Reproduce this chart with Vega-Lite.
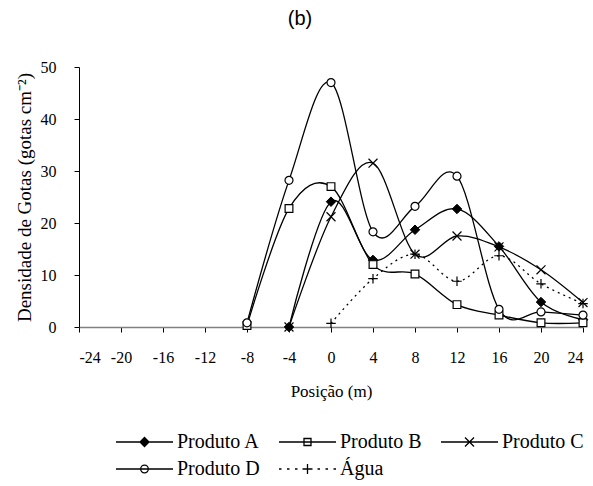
{
  "$schema": "https://vega.github.io/schema/vega-lite/v6.json",
  "autosize": "none",
  "width": 504,
  "height": 260,
  "padding": {"left": 79, "top": 67, "right": 10, "bottom": 159},
  "background": "white",
  "title": {"text": "(b)", "font": "Liberation Sans", "fontSize": 20, "fontWeight": "normal", "color": "black", "anchor": "middle", "dx": -31, "offset": 30},
  "config": {"view": {"stroke": null}},
  "data": {"values": [
    {"pos": -4, "val": 0, "serie": "Produto A"},
    {"pos": 0, "val": 24.1, "serie": "Produto A"},
    {"pos": 4, "val": 12.9, "serie": "Produto A"},
    {"pos": 8, "val": 18.7, "serie": "Produto A"},
    {"pos": 12, "val": 22.7, "serie": "Produto A"},
    {"pos": 16, "val": 15.5, "serie": "Produto A"},
    {"pos": 20, "val": 4.8, "serie": "Produto A"},
    {"pos": 24, "val": 1.4, "serie": "Produto A"},
    {"pos": -8, "val": 0.3, "serie": "Produto B"},
    {"pos": -4, "val": 22.8, "serie": "Produto B"},
    {"pos": 0, "val": 27, "serie": "Produto B"},
    {"pos": 4, "val": 12, "serie": "Produto B"},
    {"pos": 8, "val": 10.2, "serie": "Produto B"},
    {"pos": 12, "val": 4.3, "serie": "Produto B"},
    {"pos": 16, "val": 2.3, "serie": "Produto B"},
    {"pos": 20, "val": 0.8, "serie": "Produto B"},
    {"pos": 24, "val": 0.8, "serie": "Produto B"},
    {"pos": -4, "val": 0, "serie": "Produto C"},
    {"pos": 0, "val": 21.2, "serie": "Produto C"},
    {"pos": 4, "val": 31.5, "serie": "Produto C"},
    {"pos": 8, "val": 14, "serie": "Produto C"},
    {"pos": 12, "val": 17.5, "serie": "Produto C"},
    {"pos": 16, "val": 15.4, "serie": "Produto C"},
    {"pos": 20, "val": 11, "serie": "Produto C"},
    {"pos": 24, "val": 4.7, "serie": "Produto C"},
    {"pos": -8, "val": 0.8, "serie": "Produto D"},
    {"pos": -4, "val": 28.2, "serie": "Produto D"},
    {"pos": 0, "val": 47, "serie": "Produto D"},
    {"pos": 4, "val": 18.3, "serie": "Produto D"},
    {"pos": 8, "val": 23.2, "serie": "Produto D"},
    {"pos": 12, "val": 29, "serie": "Produto D"},
    {"pos": 16, "val": 3.4, "serie": "Produto D"},
    {"pos": 20, "val": 2.9, "serie": "Produto D"},
    {"pos": 24, "val": 2.3, "serie": "Produto D"},
    {"pos": 0, "val": 0.7, "serie": "Água"},
    {"pos": 4, "val": 9.3, "serie": "Água"},
    {"pos": 8, "val": 14, "serie": "Água"},
    {"pos": 12, "val": 8.8, "serie": "Água"},
    {"pos": 16, "val": 13.7, "serie": "Água"},
    {"pos": 20, "val": 8.3, "serie": "Água"},
    {"pos": 24, "val": 4.5, "serie": "Água"}
  ]},
  "encoding": {
    "x": {
      "field": "pos", "type": "quantitative",
      "scale": {"domain": [-24, 24], "nice": false, "zero": false},
      "axis": {
        "values": [-24, -20, -16, -12, -8, -4, 0, 4, 8, 12, 16, 20, 24],
        "labelExpr": "'' + datum.value",
        "title": "Posição (m)",
        "grid": false,
        "domainColor": "#808080", "domainWidth": 1.5,
        "tickColor": "black", "tickSize": 5,
        "labelFont": "Liberation Serif, Times New Roman, serif", "labelFontSize": 16, "labelColor": "black", "labelPadding": 17,
        "titleFont": "Liberation Serif, Times New Roman, serif", "titleFontSize": 17, "titleFontWeight": "normal", "titleColor": "black", "titlePadding": 18
      }
    },
    "y": {
      "field": "val", "type": "quantitative",
      "scale": {"domain": [0, 50], "nice": false},
      "axis": {
        "values": [0, 10, 20, 30, 40, 50],
        "title": "Densidade de Gotas (gotas cm⁻²)",
        "grid": false,
        "domainColor": "black", "domainWidth": 1,
        "tickColor": "black", "tickSize": 5,
        "labelFont": "Liberation Serif, Times New Roman, serif", "labelFontSize": 16, "labelColor": "black", "labelPadding": 18,
        "titleFont": "Liberation Serif, Times New Roman, serif", "titleFontSize": 19, "titleFontWeight": "normal", "titleColor": "black", "titlePadding": 6
      }
    }
  },
  "layer": [
    {
      "transform": [{"filter": "datum.serie !== 'Água'"}],
      "mark": {"type": "line", "interpolate": "cardinal", "strokeWidth": 1.3},
      "encoding": {
        "color": {
          "field": "serie", "type": "nominal",
          "scale": {"domain": ["Produto A", "Produto B", "Produto C", "Produto D", "Água"], "range": ["black", "black", "black", "black", "black"]},
          "legend": {
            "title": null,
            "orient": "none",
            "legendX": 36,
            "legendY": 364,
            "direction": "horizontal",
            "columns": 3,
            "symbolSize": 400,
            "symbolOffset": 18.5,
            "symbolStrokeWidth": 1.3,
            "labelFont": "Liberation Serif, Times New Roman, serif",
            "labelFontSize": 20,
            "labelColor": "black",
            "labelOffset": 21.5,
            "columnPadding": 16,
            "rowPadding": 6,
            "encode": {
              "symbols": {
                "update": {
                  "shape": {"signal": "datum.value === 'Produto A' ? 'M-2.85,0L2.85,0M0,-0.45L0.45,0L0,0.45L-0.45,0Z' : datum.value === 'Produto B' ? 'M-2.85,0L2.85,0M-0.35,-0.35L0.35,-0.35L0.35,0.35L-0.35,0.35Z' : datum.value === 'Produto C' ? 'M-2.85,0L2.85,0M-0.45,-0.45L0.45,0.45M-0.45,0.45L0.45,-0.45' : datum.value === 'Produto D' ? 'M-2.85,0L2.85,0M-0.38,0A0.38,0.38,0,1,0,0.38,0A0.38,0.38,0,1,0,-0.38,0Z' : 'M-2.85,0L-2.6,0M-2.05,0L-1.8,0M-1.25,0L-1.0,0M-0.5,0L0.5,0M0,-0.5L0,0.5M1.0,0L1.25,0M1.8,0L2.05,0M2.6,0L2.85,0'"},
                  "fill": {"signal": "datum.value === 'Produto A' ? 'black' : (datum.value === 'Produto B' || datum.value === 'Produto D') ? 'white' : 'transparent'"},
                  "stroke": {"value": "black"},
                  "strokeWidth": {"value": 1.3},
                  "opacity": {"value": 1}
                }
              }
            }
          }
        }
      }
    },
    {
      "transform": [{"filter": "datum.serie === 'Água'"}],
      "mark": {"type": "line", "interpolate": "cardinal", "strokeWidth": 1.3, "strokeDash": [2, 4], "color": "black"},
      "encoding": {}
    },
    {
      "transform": [{"filter": "datum.serie === 'Produto A'"}],
      "mark": {"type": "point", "shape": "M0,-1L1,0L0,1L-1,0Z", "filled": true, "fill": "black", "stroke": "black", "strokeWidth": 1, "size": 90, "opacity": 1},
      "encoding": {}
    },
    {
      "transform": [{"filter": "datum.serie === 'Produto B'"}],
      "mark": {"type": "point", "shape": "M-1,-1L1,-1L1,1L-1,1Z", "fill": "white", "stroke": "black", "strokeWidth": 1.2, "size": 60, "opacity": 1},
      "encoding": {}
    },
    {
      "transform": [{"filter": "datum.serie === 'Produto C'"}],
      "mark": {"type": "point", "shape": "M-1,-1L1,1M-1,1L1,-1", "fill": "transparent", "stroke": "black", "strokeWidth": 1.2, "size": 80, "opacity": 1},
      "encoding": {}
    },
    {
      "transform": [{"filter": "datum.serie === 'Produto D'"}],
      "mark": {"type": "point", "shape": "M-1,0A1,1,0,1,0,1,0A1,1,0,1,0,-1,0Z", "fill": "white", "stroke": "black", "strokeWidth": 1.2, "size": 64, "opacity": 1},
      "encoding": {}
    },
    {
      "transform": [{"filter": "datum.serie === 'Água'"}],
      "mark": {"type": "point", "shape": "M-1,0L1,0M0,-1L0,1", "fill": "transparent", "stroke": "black", "strokeWidth": 1.2, "size": 90, "opacity": 1},
      "encoding": {}
    }
  ]
}
